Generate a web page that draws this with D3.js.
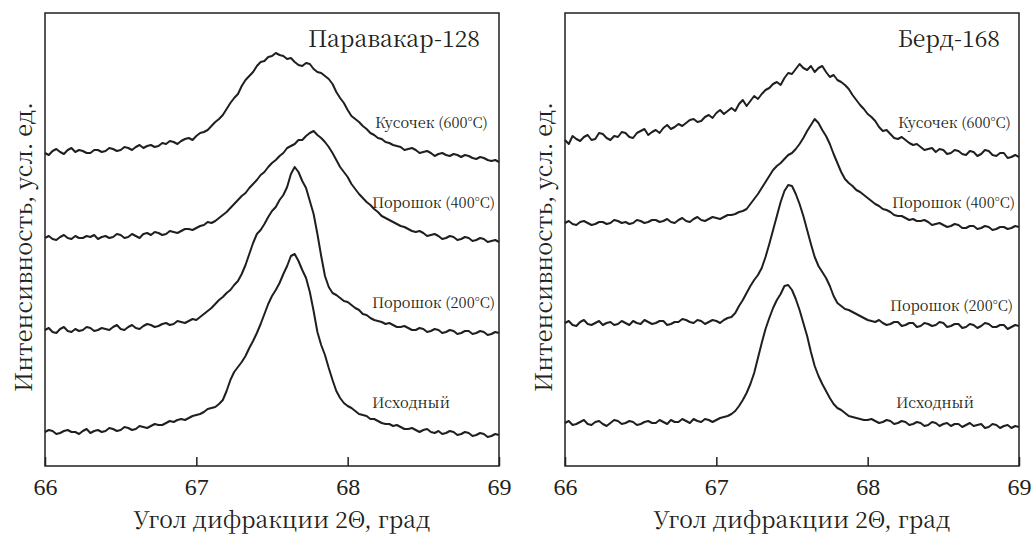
<!DOCTYPE html>
<html>
<head>
<meta charset="utf-8">
<script src="https://cdn.jsdelivr.net/npm/d3@7"></script>
<style>
  body { margin: 0; background: #fff; }
  svg { display: block; }
  text { font-family: "Noto Serif CJK SC", "Liberation Serif", serif; fill: #231f20; }
  .tick text { font-family: "Liberation Serif", serif; }
</style>
</head>
<body>
<div id="chart"></div>
<script>
// angle grid, 2Θ from 66 to 69 in steps of 0.025
const angles = d3.range(0, 121).map(i => +(66 + i * 0.025).toFixed(3));
const xTicks = [66, 67, 68, 69];

const panelTitles = ["Паравакар-128", "Берд-168"];
const curveLabels = ["Кусочек (600°C)", "Порошок (400°C)", "Порошок (200°C)", "Исходный"];

// intensities, arb. units
const par600 = [313,311,315,317,314,312,316,318,314,316,315,313,313,316,316,314,315,318,317,315,
  316,319,318,316,319,321,318,320,321,319,320,323,322,325,324,322,325,327,328,326,
  330,333,334,336,340,344,347,351,357,363,368,372,380,386,390,394,400,404,405,409,
  410,413,411,410,407,408,404,401,400,403,402,397,394,393,390,387,382,374,368,363,
  356,350,347,344,340,337,333,331,328,327,324,323,321,320,319,316,317,318,316,313,
  314,315,313,310,312,313,311,310,312,311,309,311,310,308,307,309,308,306,305,306,304];
const par400 = [228,230,227,226,229,231,228,227,230,228,228,230,229,231,227,229,230,228,229,232,
  231,228,229,232,230,228,232,233,231,234,233,231,232,235,234,233,235,237,237,236,
  238,240,241,244,243,245,248,251,254,258,262,266,270,273,278,282,286,291,294,299,
  303,306,310,313,318,320,322,326,326,330,333,335,331,328,324,319,313,306,299,294,
  289,282,277,272,268,264,261,257,254,250,248,246,244,242,240,239,237,235,234,235,
  233,230,231,232,230,227,228,230,229,226,227,229,228,225,226,228,227,224,225,226,224];
const par200 = [136,138,134,133,137,139,135,134,137,135,136,139,138,135,136,138,137,136,139,141,
  137,136,139,141,138,137,140,142,141,139,140,142,143,141,142,145,144,143,145,147,
  146,149,152,155,158,162,166,169,173,176,181,185,192,201,212,223,232,236,242,249,
  255,259,266,271,279,292,299,294,285,278,265,252,232,210,190,179,173,171,168,165,
  164,161,158,156,152,151,148,146,145,144,142,143,141,139,139,140,138,136,136,138,
  137,134,135,137,136,133,134,136,135,132,133,135,135,132,133,135,134,131,132,134,133];
const par0 = [34,36,35,32,33,35,36,34,34,32,35,37,33,35,36,34,35,38,37,35,
  36,39,38,36,37,40,39,38,40,42,41,41,43,45,44,46,47,46,48,50,
  51,52,54,57,58,59,62,66,75,86,94,99,104,110,118,125,133,142,152,162,
  170,176,183,192,200,210,212,205,196,188,174,155,134,121,111,98,86,75,68,63,
  60,58,55,52,51,50,47,47,45,43,42,42,40,41,39,37,37,38,36,34,
  36,37,34,33,35,32,33,35,34,31,32,34,33,30,31,33,32,29,30,32,31];

const berd600 = [326,322,330,327,325,329,331,326,327,333,332,328,326,330,329,334,333,329,328,333,
  335,337,331,334,336,333,338,341,337,339,342,340,343,346,347,344,345,349,351,348,
  353,356,352,355,358,355,362,366,360,365,370,367,372,376,378,382,384,381,388,393,
  392,397,402,398,396,400,394,398,400,394,389,391,386,384,381,377,371,366,361,357,
  352,349,345,339,335,336,332,328,327,329,326,323,321,322,319,316,317,318,314,317,
  316,312,313,316,315,312,311,315,314,310,312,316,315,311,310,313,313,308,309,311,309];
const berd400 = [243,245,242,241,244,245,243,241,242,244,244,242,243,246,245,243,244,242,243,246,
  245,243,244,246,246,244,245,247,244,243,246,248,245,244,247,249,246,245,247,249,
  248,247,249,251,251,252,254,255,257,262,267,272,278,284,290,296,300,303,307,311,
  313,317,322,328,335,341,347,343,336,330,322,312,303,294,287,283,280,276,274,271,
  268,265,262,260,257,256,254,251,250,250,248,246,247,245,245,246,244,241,242,243,
  241,239,240,242,241,238,238,240,240,237,238,240,239,236,237,239,239,237,238,240,239];
const berd200 = [143,145,141,140,144,146,142,141,143,145,141,143,144,141,142,145,143,141,145,143,
  142,146,144,142,143,145,145,141,142,144,144,147,146,144,143,146,145,142,144,146,
  145,143,146,148,149,153,160,166,173,180,186,191,198,209,222,236,250,264,275,281,
  280,272,262,250,236,222,209,200,194,188,180,170,163,160,157,156,154,152,150,148,
  146,145,144,146,143,141,142,144,144,140,141,143,143,139,140,143,142,140,141,144,
  143,139,140,142,142,138,139,142,141,138,140,143,142,139,139,141,141,137,139,141,140];
const berd0 = [43,45,41,42,44,46,42,41,44,45,42,40,43,46,45,42,43,45,44,41,
  42,44,45,43,43,46,44,42,46,44,44,47,45,43,47,45,44,47,46,44,
  46,48,49,50,52,55,60,66,73,82,93,108,123,137,148,158,166,172,180,181,
  176,167,156,143,130,114,100,90,82,75,68,62,58,56,53,50,49,48,47,46,
  46,47,45,43,44,46,45,42,43,45,44,41,42,44,43,40,41,44,43,40,
  42,43,40,42,42,39,41,43,40,41,42,38,39,42,41,38,40,41,38,40,39];

const panels = [
  { title: panelTitles[0], series: [par600, par400, par200, par0],
    labelX: [330, 327, 327, 327], labelY: [128, 208, 308, 408] },
  { title: panelTitles[1], series: [berd600, berd400, berd200, berd0],
    labelX: [333, 327, 325, 331], labelY: [128, 208, 311, 408] }
];

const width = 1035, height = 534;
const svg = d3.select("#chart").append("svg")
  .attr("width", width)
  .attr("height", height);

const panelLeft = [45, 565];
const panelW = 454;
const plotTop = 13, plotBottom = 466;

// scale a text's font so that it spans the wanted width
function fitWidth(sel, w) {
  const fs = +sel.attr("font-size");
  const len = sel.node().getComputedTextLength();
  const nf = fs * w / len;
  sel.attr("font-size", nf);
  return nf;
}

let labelSize = null, titleSize = null;

panels.forEach((p, k) => {
  const x0 = panelLeft[k];
  const x = d3.scaleLinear().domain([66, 69]).range([x0, x0 + panelW]);
  const y = d3.scaleLinear().domain([0, 453]).range([plotBottom, plotTop]);

  const g = svg.append("g");

  const line = d3.line()
    .x((d, i) => x(angles[i]))
    .y(d => y(d));

  p.series.forEach(s => {
    g.append("path")
      .datum(s)
      .attr("d", line)
      .attr("fill", "none")
      .attr("stroke", "#1f1f1f")
      .attr("stroke-width", 2)
      .attr("stroke-linejoin", "round");
  });

  // frame
  g.append("rect")
    .attr("x", x0).attr("y", plotTop)
    .attr("width", panelW).attr("height", plotBottom - plotTop)
    .attr("fill", "none")
    .attr("stroke", "#231f20")
    .attr("stroke-width", 1.5);

  // bottom axis, ticks pointing inward
  g.append("g")
    .attr("transform", `translate(0,${plotBottom})`)
    .call(d3.axisBottom(x).tickValues(xTicks).tickFormat(d3.format("d"))
      .tickSizeInner(-9).tickSizeOuter(0).tickPadding(12))
    .call(a => a.select(".domain").remove())
    .call(a => a.selectAll("line").attr("stroke", "#231f20").attr("stroke-width", 1.5))
    .call(a => a.selectAll("text").attr("font-size", 24).attr("fill", "#231f20"));

  const xt = g.append("text")
    .attr("x", x0 + 237)
    .attr("y", 528)
    .attr("text-anchor", "middle")
    .attr("font-size", 23)
    .text("Угол дифракции 2Θ, град");
  fitWidth(xt, 297);

  const yt = g.append("text")
    .attr("transform", `translate(${x0 - 13},247) rotate(-90)`)
    .attr("text-anchor", "middle")
    .attr("font-size", 23)
    .text("Интенсивность, усл. ед.");
  fitWidth(yt, 290);

  const tt = g.append("text")
    .attr("x", x0 + 435)
    .attr("y", 47)
    .attr("text-anchor", "end")
    .attr("font-size", 22)
    .text(p.title);
  if (titleSize === null) titleSize = fitWidth(tt, 172);
  else tt.attr("font-size", titleSize);

  curveLabels.forEach((lab, j) => {
    const t = g.append("text")
      .attr("x", x0 + p.labelX[j])
      .attr("y", p.labelY[j])
      .attr("font-size", 14)
      .text(lab);
    if (labelSize === null) labelSize = fitWidth(t, 113);
    else t.attr("font-size", labelSize);
  });
});
</script>
</body>
</html>
